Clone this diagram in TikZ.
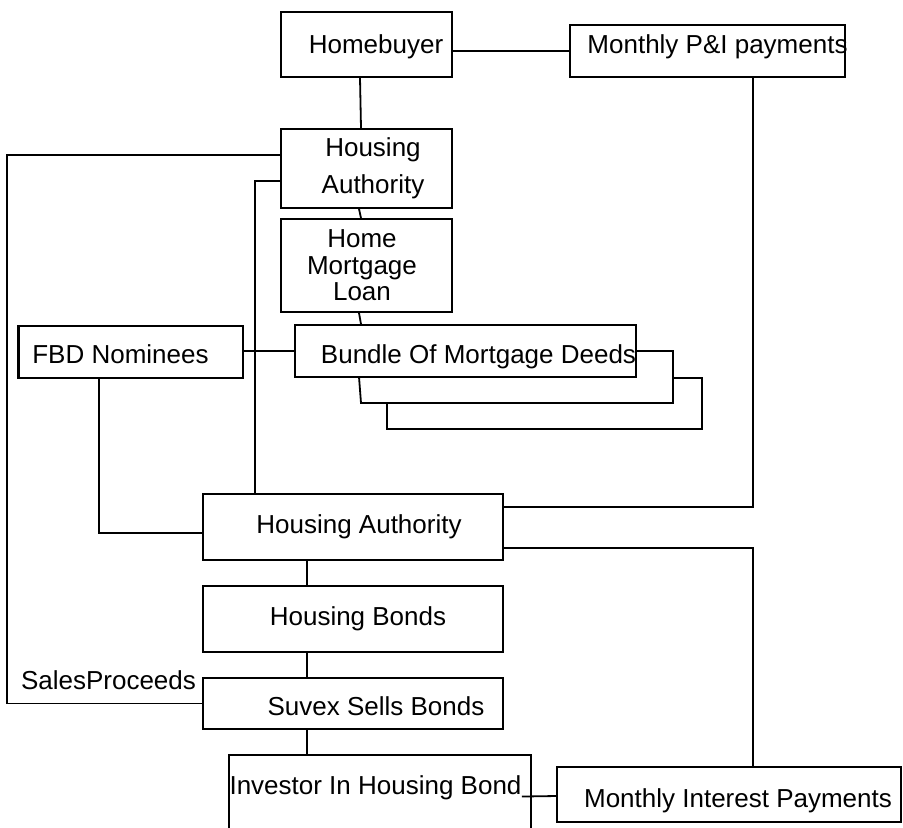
\documentclass[tikz,border=0pt]{standalone}
\usepackage{fontspec}
\setmainfont{Liberation Sans}
\usetikzlibrary{calc}

\begin{document}
\begin{tikzpicture}[
    x = 0.5pt, y = -0.5pt,
    line width = 0.9pt,
    font = \fontsize{13}{15.6}\selectfont,
    box/.style = {draw, rectangle, black, inner sep = 0pt},
  ]
  \useasboundingbox (0,0) rectangle (903,827);
  \clip (0,0) rectangle (903,827);

  \node[
      box, minimum width = 85.5pt, minimum height = 32.5pt,
      label = {[xshift = 4.75pt, yshift = -1pt]center:Homebuyer}
  ] (buyer) at (366.5,44.5) {};

  \node[
      box, minimum width = 137.5pt, minimum height = 26pt,
      label = {[xshift = 5pt, yshift = 2.3pt]center:Monthly P\&I payments}
  ] (pay) at (707.5,51) {};

  \node[
      box, minimum width = 85.5pt, minimum height = 39.5pt,
      label = {[align = center, font = \fontsize{13}{18.5}\selectfont,
                xshift = 3.25pt]center:Housing\\Authority}
  ] (auth) at (366.5,168.5) {};

  \node[
      box, minimum width = 85.5pt, minimum height = 46.5pt,
      label = {[align = center, font = \fontsize{13}{13.25}\selectfont,
                xshift = -2.25pt]center:Home\\Mortgage\\Loan}
  ] (loan) at (366.5,265.5) {};

  \node[
      box, minimum width = 170.5pt, minimum height = 26pt,
      label = {[xshift = 6.5pt, yshift = -3pt]center:Bundle Of Mortgage Deeds}
  ] (bundle) at (465.5,351) {};

  \node[
      box, minimum width = 112pt, minimum height = 26pt,
      label = {[xshift = -5.25pt, yshift = -1pt]center:FBD Nominees}
  ] (nominees) at (131,352) {};

  \node[
      box, minimum width = 150pt, minimum height = 33pt,
      label = {[xshift = 3pt]center:Housing Authority}
  ] (agency) at (353,527) {};

  \node[
      box, minimum width = 150pt, minimum height = 33pt,
      label = {[xshift = 2.5pt]center:Housing Bonds}
  ] (bonds) at (353,619) {};

  \node[
      box, minimum width = 150pt, minimum height = 25.5pt,
      label = {[xshift = 11.5pt, yshift = -1.1pt]center:Suvex Sells Bonds}
  ] (seller) at (353,703.5) {};

  \node[
      box, minimum width = 151pt, minimum height = 50pt,
      label = {[xshift = -2.25pt, yshift = 8.5pt]center:Investor In Housing Bond}
  ] (investor) at (380,805) {};

  \node[
      box, minimum width = 172pt, minimum height = 27.5pt,
      label = {[xshift = 4.5pt, yshift = -3.25pt]center:Monthly Interest Payments}
  ] (interest) at (729,794.5) {};

  \node (proceeds) at (108.5,680) {SalesProceeds};
  \coordinate (rail) at (7,0);

  \draw[line width = 1.6pt] ([xshift = 0.35pt]nominees.north west) -- ([xshift = 0.35pt]nominees.south west);

  \draw (bundle.east) -| (673,403) -- (361,403) -- (359,377);
  \draw (673,378) -| (702,429) -- (387,429) -- (387,403);

  \draw (buyer.east |- pay.west) -- (pay.west);
  \draw ($(buyer.south)+(-6.5,0)$) -- ($(auth.north)+(-5.5,0)$);
  \draw ($(auth.south)+(-7.5,0)$) -- ($(loan.north)+(-5.5,0)$);
  \draw ($(loan.south)+(-7.5,0)$) -- ($(bundle.north)+(-104.5,0)$);
  \draw (nominees.east |- bundle.west) -- (bundle.west);
  \draw ($(nominees.south)+(-32,0)$) |- ($(agency.west)+(0,6)$);
  \draw ($(auth.west)+(0,-13.5)$) -| (rail |- seller.west) -- (seller.west);
  \draw ($(auth.west)+(0,12.5)$) -| ($(agency.north)+(-98,0)$);
  \draw ($(agency.east)+(0,-20)$) -| ($(pay.south)+(45.5,0)$);
  \draw ($(agency.east)+(0,21)$) -| ($(interest.north)+(24,0)$);
  \draw ($(agency.south)+(-46,0)$) -- ($(bonds.north)+(-46,0)$);
  \draw ($(bonds.south)+(-46,0)$) -- ($(seller.north)+(-46,0)$);
  \draw ($(seller.south)+(-46,0)$) -- ($(investor.north)+(-73,0)$);
  \draw ($(investor.east)+(-10,-8.5)$) -- ($(interest.west)+(0,1.5)$);
\end{tikzpicture}
\end{document}
